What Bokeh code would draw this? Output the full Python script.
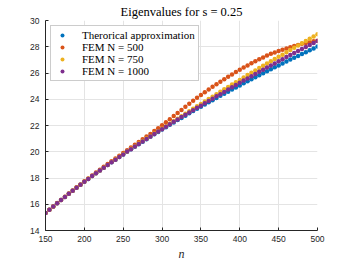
from bokeh.plotting import figure
from bokeh.models import Legend, LegendItem, Range1d, FixedTicker, ColumnDataSource
from bokeh.embed import file_html
from bokeh.resources import INLINE

n_vals = list(range(150, 501, 5))

theory = [15.33, 15.58, 15.83, 16.08, 16.32, 16.56, 16.80, 17.03, 17.26, 17.48,
          17.71, 17.93, 18.15, 18.36, 18.57, 18.78, 18.99, 19.20, 19.40, 19.60,
          19.80, 20.00, 20.19, 20.39, 20.58, 20.77, 20.96, 21.14, 21.33, 21.51,
          21.69, 21.87, 22.05, 22.23, 22.41, 22.58, 22.75, 22.93, 23.10, 23.27,
          23.43, 23.60, 23.77, 23.93, 24.10, 24.26, 24.42, 24.58, 24.74, 24.90,
          25.05, 25.21, 25.37, 25.52, 25.67, 25.83, 25.98, 26.13, 26.28, 26.43,
          26.58, 26.72, 26.87, 27.02, 27.16, 27.30, 27.45, 27.59, 27.73, 27.87,
          28.01]

fem500 = [15.33, 15.58, 15.83, 16.09, 16.33, 16.57, 16.82, 17.05, 17.29, 17.51,
          17.75, 17.97, 18.20, 18.41, 18.63, 18.85, 19.06, 19.28, 19.49, 19.70,
          19.91, 20.12, 20.32, 20.54, 20.74, 20.95, 21.16, 21.36, 21.58, 21.80,
          22.02, 22.25, 22.48, 22.72, 22.96, 23.19, 23.42, 23.66, 23.89, 24.11,
          24.32, 24.54, 24.75, 24.95, 25.15, 25.34, 25.53, 25.71, 25.89, 26.07,
          26.24, 26.41, 26.58, 26.74, 26.89, 27.05, 27.19, 27.33, 27.46, 27.57,
          27.68, 27.77, 27.87, 27.97, 28.06, 28.14, 28.23, 28.29, 28.35, 28.41,
          28.46]

fem750 = [15.33, 15.58, 15.83, 16.08, 16.32, 16.56, 16.80, 17.03, 17.26, 17.48,
          17.71, 17.94, 18.16, 18.37, 18.58, 18.79, 19.00, 19.21, 19.41, 19.61,
          19.82, 20.02, 20.22, 20.42, 20.62, 20.81, 21.01, 21.19, 21.39, 21.57,
          21.76, 21.95, 22.14, 22.33, 22.52, 22.71, 22.89, 23.09, 23.27, 23.46,
          23.63, 23.82, 24.01, 24.20, 24.39, 24.57, 24.76, 24.94, 25.12, 25.30,
          25.47, 25.66, 25.84, 26.02, 26.19, 26.38, 26.55, 26.72, 26.90, 27.07,
          27.24, 27.40, 27.58, 27.75, 27.92, 28.09, 28.27, 28.44, 28.61, 28.78,
          28.96]

fem1000 = [15.33, 15.58, 15.83, 16.08, 16.32, 16.56, 16.80, 17.03, 17.26, 17.48,
           17.71, 17.93, 18.15, 18.36, 18.57, 18.78, 18.99, 19.20, 19.40, 19.60,
           19.80, 20.01, 20.20, 20.40, 20.59, 20.78, 20.97, 21.16, 21.35, 21.54,
           21.72, 21.91, 22.09, 22.28, 22.46, 22.64, 22.81, 23.00, 23.17, 23.35,
           23.51, 23.69, 23.87, 24.04, 24.22, 24.39, 24.56, 24.74, 24.91, 25.08,
           25.25, 25.42, 25.59, 25.75, 25.92, 26.09, 26.25, 26.41, 26.57, 26.73,
           26.90, 27.05, 27.22, 27.38, 27.53, 27.68, 27.83, 27.98, 28.13, 28.28,
           28.43]

series_labels = ["Therorical approximation", "FEM N = 500", "FEM N = 750", "FEM N = 1000"]
series_colors = ["#0072BD", "#D95319", "#EDB120", "#7E2F8E"]
x_ticks = [150, 200, 250, 300, 350, 400, 450, 500]
y_ticks = [14, 16, 18, 20, 22, 24, 26, 28, 30]

p = figure(width=350, height=263, output_backend="svg", toolbar_location=None,
           x_range=Range1d(150, 500), y_range=Range1d(14, 30),
           min_border_left=45, min_border_right=33, min_border_top=20, min_border_bottom=29)

p.outline_line_color = None
p.background_fill_color = "white"
p.border_fill_color = "white"

p.title.text = "Eigenvalues for s = 0.25"
p.title.align = "center"
p.title.text_font = "Liberation Serif"
p.title.text_font_size = "12.5px"
p.title.text_font_style = "normal"
p.title.text_color = "black"
p.title.standoff = 4

for ax in (p.xaxis[0], p.yaxis[0]):
    ax.axis_line_color = "#262626"
    ax.axis_line_width = 1
    ax.major_tick_in = 3
    ax.major_tick_out = 0
    ax.major_tick_line_color = "#262626"
    ax.minor_tick_line_color = None
    ax.major_label_text_font = "Liberation Sans"
    ax.major_label_text_font_size = "8.5px"
    ax.major_label_text_color = "#262626"

p.xaxis.major_label_standoff = 5
p.yaxis.major_label_standoff = 6
p.xaxis.ticker = FixedTicker(ticks=x_ticks)
p.yaxis.ticker = FixedTicker(ticks=y_ticks)
p.xaxis.axis_label = "n"
p.xaxis.axis_label_text_font = "Liberation Serif"
p.xaxis.axis_label_text_font_style = "italic"
p.xaxis.axis_label_text_font_size = "12px"
p.xaxis.axis_label_text_color = "#262626"
p.xaxis.axis_label_standoff = 2

p.grid.grid_line_color = "#e4e4e4"
p.grid.grid_line_width = 1

items = []
for ys, lab, col in zip([theory, fem500, fem750, fem1000], series_labels, series_colors):
    src = ColumnDataSource(dict(x=n_vals, y=ys))
    r = p.scatter("x", "y", source=src, size=4.5, marker="circle",
                  fill_color=col, line_color=None)
    items.append(LegendItem(label=lab, renderers=[r]))

legend = Legend(items=items, location="top_left")
legend.margin = 5
legend.padding = 3
legend.spacing = 0
legend.label_height = 10
legend.glyph_height = 10
legend.glyph_width = 16
legend.label_standoff = 12
legend.label_text_font = "Liberation Serif"
legend.label_text_font_size = "11px"
legend.label_text_color = "black"
legend.border_line_color = "#9a9a9a"
legend.border_line_width = 1
legend.background_fill_color = "white"
legend.background_fill_alpha = 1
p.add_layout(legend, "center")

open("out.html", "w").write(file_html(p, INLINE))
